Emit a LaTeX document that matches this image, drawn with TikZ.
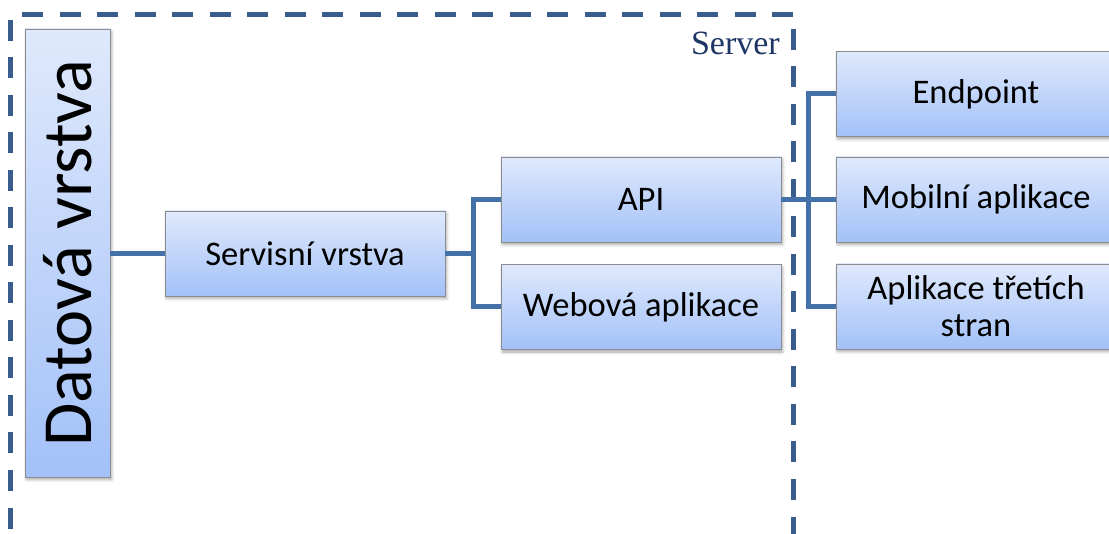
\documentclass[tikz,border=0pt]{standalone}
\usepackage{fontspec}
\setmainfont{Carlito}
\newfontfamily\serverfont{Liberation Serif}
\usetikzlibrary{calc,shadows.blur}

\definecolor{boxtop}{RGB}{223,233,252}
\definecolor{boxbottom}{RGB}{163,193,248}
\definecolor{boxedge}{RGB}{138,140,145}
\definecolor{connblue}{RGB}{68,114,168}
\definecolor{frameblue}{RGB}{56,92,140}
\definecolor{servertext}{RGB}{30,54,100}

\tikzset{
  layerbox/.style={draw=boxedge, line width=0.9pt, top color=boxtop, bottom color=boxbottom,
    minimum width=280pt, minimum height=85pt, inner sep=2pt, align=center,
    font=\fontsize{34.5}{37}\selectfont,
    blur shadow={shadow xshift=1.5pt, shadow yshift=-2.5pt, shadow blur radius=3pt, shadow opacity=35}},
  conn/.style={draw=connblue, line width=5pt, line join=miter},
  frame/.style={draw=frameblue, line width=5pt, dash pattern=on 21pt off 16.5pt},
}

\begin{document}
\begin{tikzpicture}[x=1pt, y=-1pt]
\useasboundingbox (0,0) rectangle (1109,534);

% server boundary, open at the bottom
\coordinate (fbl) at (10,545);
\coordinate (ftl) at (10,15);
\coordinate (ftr) at (793,15);
\coordinate (fbr) at (793,545);
\draw[frame] ($(ftl)+(0,5)$) -- (fbl);
\draw[frame] ($(ftl)+(12,0)$) -- (ftr);
\draw[frame] ($(ftr)+(0,14)$) -- (fbr);
\node[anchor=base east, text=servertext, font=\serverfont\fontsize{34}{40}\selectfont, inner sep=0pt]
  (server) at (780,55) {Server};

% layers
\node[layerbox, minimum width=85pt, minimum height=448pt] (dat) at (67.5,253) {};
\node[rotate=90, font=\fontsize{70.5}{84}\selectfont, inner sep=0pt] (datlabel) at (dat.center) {Datová vrstva};

\node[layerbox] (srv) at (305,253.5) {Servisní vrstva};
\node[layerbox] (api) at (641,199.5) {API};
\node[layerbox] (web) at (641,307) {Webová aplikace};

\node[layerbox] (endp) at (976,94) {Endpoint};
\node[layerbox] (mob) at (976,199.5) {Mobilní aplikace};
\node[layerbox] (third) at (976,306.5) {Aplikace třetích\\stran};

% connectors
\coordinate (j1) at ($(srv.east)!.5!(api.west)$);
\coordinate (j2) at ($(api.east)!.5!(mob.west)$);

\draw[conn] (dat.east |- srv.west) -- (srv.west);
\draw[conn] (srv.east) -- (srv.east -| j1);
\draw[conn] (api.west) -| (j1) |- (web.west);

\draw[conn] (api.east) -- (api.east -| j2);
\draw[conn] (endp.west) -| (j2) |- (third.west);
\draw[conn] (mob.west) -- (mob.west -| j2);
\end{tikzpicture}
\end{document}
